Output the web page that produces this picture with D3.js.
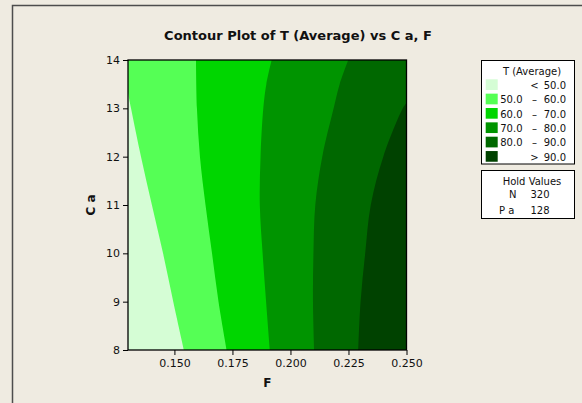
<!DOCTYPE html>
<html>
<head>
<meta charset="utf-8">
<script src="https://cdn.jsdelivr.net/npm/d3@7"></script>
<style>
  body { margin: 0; background: #efebe1; }
  text { font-family: 'DejaVu Sans', sans-serif; fill: #111; }
</style>
</head>
<body>
<div id="chart"></div>
<script>
// contour boundaries, [F, C a]
const boundary50 = [[0.1541, 8], [0.1495, 9], [0.1451, 10], [0.1403, 11], [0.1356, 12], [0.1313, 13], [0.13, 13.32]]
const boundary60 = [[0.1725, 8], [0.1690, 9], [0.1662, 10], [0.1634, 11], [0.1610, 12], [0.1597, 13], [0.1593, 14]]
const boundary70 = [[0.1911, 8], [0.1895, 9], [0.1880, 10], [0.1868, 11], [0.1871, 12], [0.1883, 13], [0.1896, 13.5], [0.1919, 14]]
const boundary80 = [[0.2102, 8], [0.2097, 9], [0.2099, 10], [0.2107, 11], [0.2137, 12], [0.2186, 13], [0.2212, 13.5], [0.2249, 14]]
const boundary90 = [[0.2292, 8], [0.2302, 9], [0.2322, 10], [0.2346, 11], [0.2400, 12], [0.2484, 13], [0.25, 13.11]]

const bandColors = ['#d5fdd5', '#55ff55', '#00d600', '#009400', '#006800', '#004200']
const bandLow = ['', '50.0', '60.0', '70.0', '80.0', '']
const bandSign = ['<', '\u2013', '\u2013', '\u2013', '\u2013', '>']
const bandHigh = ['50.0', '60.0', '70.0', '80.0', '90.0', '90.0']

const xTicks = [0.15, 0.175, 0.2, 0.225, 0.25]
const yTicks = [8, 9, 10, 11, 12, 13, 14]
const holdNames = ['N', 'P a']
const holdValues = ['320', '128']

const W = 582
const H = 403
const plot = { left: 128, top: 60, right: 406.5, bottom: 350 }

const svg = d3
  .select('#chart')
  .append('svg')
  .attr('width', W)
  .attr('height', H)

svg.append('rect').attr('width', W).attr('height', H).attr('fill', '#efebe1')

// outer frame (only top and left show)
svg
  .append('path')
  .attr('d', `M12.5,${H} V5.5 H${W}`)
  .attr('fill', 'none')
  .attr('stroke', '#4d4d4d')
  .attr('stroke-width', 1.5)

const x = d3.scaleLinear().domain([0.13, 0.25]).range([plot.left, plot.right])
const y = d3.scaleLinear().domain([8, 14]).range([plot.bottom, plot.top])

svg
  .append('clipPath')
  .attr('id', 'clip')
  .append('rect')
  .attr('x', plot.left)
  .attr('y', plot.top)
  .attr('width', plot.right - plot.left)
  .attr('height', plot.bottom - plot.top)

const g = svg.append('g').attr('clip-path', 'url(#clip)')

// darkest band first, then fill left of each boundary
g.append('rect')
  .attr('x', plot.left)
  .attr('y', plot.top)
  .attr('width', plot.right - plot.left)
  .attr('height', plot.bottom - plot.top)
  .attr('fill', bandColors[5])

const line = d3
  .line()
  .x(d => x(d[0]))
  .y(d => y(d[1]))
  .curve(d3.curveCatmullRom)

const boundaries = [boundary90, boundary80, boundary70, boundary60, boundary50]
boundaries.forEach(function(b, i) {
  const last = b[b.length - 1]
  let d = line(b)
  if (last[0] >= 0.25) d += `L${x(0.25)},${y(14)}`
  d += `L${x(0.13)},${y(14)}L${x(0.13)},${y(8)}Z`
  g.append('path')
    .attr('d', d)
    .attr('fill', bandColors[4 - i])
})

// plot border
svg
  .append('rect')
  .attr('x', plot.left)
  .attr('y', plot.top)
  .attr('width', plot.right - plot.left)
  .attr('height', plot.bottom - plot.top)
  .attr('fill', 'none')
  .attr('stroke', '#000')
  .attr('stroke-width', 1.3)

const xAxis = d3
  .axisBottom(x)
  .tickValues(xTicks)
  .tickFormat(d3.format('.3f'))
  .tickSize(5)
  .tickSizeOuter(0)
svg
  .append('g')
  .attr('transform', 'translate(0,' + plot.bottom + ')')
  .call(xAxis)
  .call(a => a.select('.domain').remove())
  .selectAll('text')
  .attr('font-size', 11)
  .attr('font-family', 'DejaVu Sans')
  .attr('fill', '#111')
  .attr('dy', '0.85em')

const yAxis = d3
  .axisLeft(y)
  .tickValues(yTicks)
  .tickFormat(d3.format('d'))
  .tickSize(5)
  .tickSizeOuter(0)
svg
  .append('g')
  .attr('transform', 'translate(' + plot.left + ',0)')
  .call(yAxis)
  .call(a => a.select('.domain').remove())
  .selectAll('text')
  .attr('font-size', 11)
  .attr('font-family', 'DejaVu Sans')
  .attr('fill', '#111')

svg.selectAll('.tick line').attr('stroke', '#000')

svg
  .append('text')
  .attr('x', 298)
  .attr('y', 40)
  .attr('text-anchor', 'middle')
  .attr('font-weight', 'bold')
  .attr('font-size', 13)
  .text('Contour Plot of T (Average) vs C a, F')

svg
  .append('text')
  .attr('x', (plot.left + plot.right) / 2)
  .attr('y', 387)
  .attr('text-anchor', 'middle')
  .attr('font-weight', 'bold')
  .attr('font-size', 12)
  .text('F')

svg
  .append('text')
  .attr('transform', 'translate(95,' + (plot.top + plot.bottom) / 2 + ') rotate(-90)')
  .attr('text-anchor', 'middle')
  .attr('font-weight', 'bold')
  .attr('font-size', 12)
  .text('C a')

// legend
const lg = svg.append('g')
lg.append('rect')
  .attr('x', 481.5)
  .attr('y', 60.5)
  .attr('width', 93)
  .attr('height', 103.5)
  .attr('fill', '#fff')
  .attr('stroke', '#000')
lg.append('text')
  .attr('x', 532)
  .attr('y', 75)
  .attr('text-anchor', 'middle')
  .attr('font-size', 10)
  .text('T (Average)')

const rows = lg
  .selectAll('g.row')
  .data(bandColors)
  .enter()
  .append('g')
  .attr('class', 'row')
  .attr('transform', (d, i) => 'translate(0,' + (79.3 + i * 14.35) + ')')
rows
  .append('rect')
  .attr('x', 485.7)
  .attr('width', 12)
  .attr('height', 10.7)
  .attr('fill', d => d)
rows
  .append('text')
  .attr('x', 522.5)
  .attr('y', 9.5)
  .attr('text-anchor', 'end')
  .attr('font-size', 10)
  .text((d, i) => bandLow[i])
rows
  .append('text')
  .attr('x', 534.5)
  .attr('y', 9.5)
  .attr('text-anchor', 'middle')
  .attr('font-size', 10)
  .text((d, i) => bandSign[i])
rows
  .append('text')
  .attr('x', 566)
  .attr('y', 9.5)
  .attr('text-anchor', 'end')
  .attr('font-size', 10)
  .text((d, i) => bandHigh[i])

const hg = svg.append('g')
hg.append('rect')
  .attr('x', 481.5)
  .attr('y', 170.5)
  .attr('width', 93)
  .attr('height', 48)
  .attr('fill', '#fff')
  .attr('stroke', '#000')
hg.append('text')
  .attr('x', 532)
  .attr('y', 184.5)
  .attr('text-anchor', 'middle')
  .attr('font-size', 10)
  .text('Hold Values')
holdNames.forEach(function(n, i) {
  hg.append('text')
    .attr('x', i === 0 ? 509 : 499)
    .attr('y', 198 + i * 15.5)
    .attr('font-size', 10)
    .text(n)
  hg.append('text')
    .attr('x', 530.5)
    .attr('y', 198 + i * 15.5)
    .attr('font-size', 10)
    .text(holdValues[i])
})
</script>
</body>
</html>
